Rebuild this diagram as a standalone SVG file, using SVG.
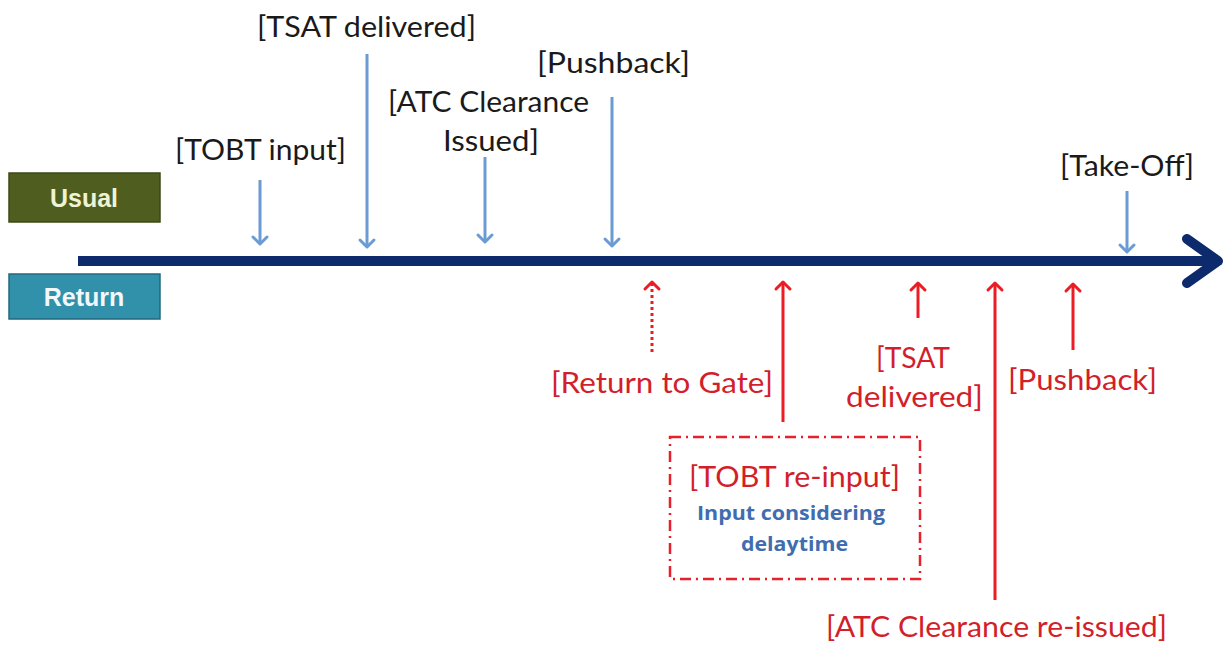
<svg xmlns="http://www.w3.org/2000/svg" width="1226" height="645" viewBox="0 0 1226 645">
<style>
.lbl{font-family:Lato,"Open Sans","Liberation Sans",sans-serif;font-size:28px}
.blk{fill:#1a1a1a}
.red{fill:#d21f2b}
.sub{font-family:"Open Sans","Liberation Sans",sans-serif;font-size:20px;font-weight:bold;fill:#3f6db0}
.tag{font-family:"Liberation Sans",Arial,sans-serif;font-size:25px;font-weight:bold;text-anchor:middle}
.ba{stroke:#6a9bd2;stroke-width:3;fill:none;marker-end:url(#mb)}
.ra{stroke:#ec1c24;stroke-width:3;fill:none;marker-end:url(#mr)}
</style>
<defs>
<marker id="mb" viewBox="0 0 20 20" refX="17" refY="10" markerWidth="20" markerHeight="20" markerUnits="userSpaceOnUse" orient="auto">
<path d="M10,3 L17,10 L10,17" fill="none" stroke="#6a9bd2" stroke-width="3" stroke-linecap="round" stroke-linejoin="round"/>
</marker>
<marker id="mr" viewBox="0 0 20 20" refX="17" refY="10" markerWidth="20" markerHeight="20" markerUnits="userSpaceOnUse" orient="auto">
<path d="M10,3 L17,10 L10,17" fill="none" stroke="#ec1c24" stroke-width="3" stroke-linecap="round" stroke-linejoin="round"/>
</marker>
</defs>
<rect width="1226" height="645" fill="#ffffff"/>

<g id="timeline">
<line x1="78" y1="261" x2="1214" y2="261" stroke="#0d2a6c" stroke-width="10"/>
<path d="M1187,239 L1218,261 L1187,283" fill="none" stroke="#0d2a6c" stroke-width="10" stroke-linecap="round" stroke-linejoin="round"/>
</g>

<g id="usual">
<rect x="9" y="173" width="151" height="49" fill="#4f5e1f" stroke="#3d4917" stroke-width="1.5"/>
<text class="tag" x="84" y="207" fill="#eef3d6">Usual</text>
</g>
<g id="return">
<rect x="9" y="274" width="151" height="45" fill="#3190aa" stroke="#22697d" stroke-width="1.5"/>
<text class="tag" x="84" y="306" fill="#f2f8fa">Return</text>
</g>

<g id="connectors">
<line class="ba" x1="260" y1="180" x2="260" y2="244"/>
<line class="ba" x1="367" y1="54" x2="367" y2="247"/>
<line class="ba" x1="485" y1="157" x2="485" y2="242"/>
<line class="ba" x1="612" y1="97" x2="612" y2="246"/>
<line class="ba" x1="1127" y1="191" x2="1127" y2="252"/>
<line class="ra" x1="652" y1="352" x2="652" y2="282" stroke-dasharray="3,3"/>
<line class="ra" x1="783" y1="422" x2="783" y2="282"/>
<line class="ra" x1="918" y1="318" x2="918" y2="283"/>
<line class="ra" x1="995" y1="600" x2="995" y2="283"/>
<line class="ra" x1="1073" y1="350" x2="1073" y2="284"/>
</g>

<g id="tobt-input"><text class="lbl blk" x="175" y="160" textLength="171" lengthAdjust="spacingAndGlyphs">[TOBT input]</text></g>
<g id="tsat-delivered"><text class="lbl blk" x="257" y="37" textLength="219" lengthAdjust="spacingAndGlyphs">[TSAT delivered]</text></g>
<g id="atc-clearance">
<text class="lbl blk" x="388" y="112" textLength="201" lengthAdjust="spacingAndGlyphs">[ATC Clearance</text>
<text class="lbl blk" x="443" y="151" textLength="96" lengthAdjust="spacingAndGlyphs">Issued]</text>
</g>
<g id="pushback"><text class="lbl blk" x="537" y="73" textLength="153" lengthAdjust="spacingAndGlyphs">[Pushback]</text></g>
<g id="take-off"><text class="lbl blk" x="1060" y="176" textLength="134" lengthAdjust="spacingAndGlyphs">[Take-Off]</text></g>

<g id="return-to-gate"><text class="lbl red" x="551" y="393" textLength="222" lengthAdjust="spacingAndGlyphs">[Return to Gate]</text></g>
<g id="tobt-reinput">
<rect x="670" y="437" width="250" height="142" fill="none" stroke="#e5222c" stroke-width="2.5" stroke-dasharray="11,5,2,5"/>
<text class="lbl red" x="689" y="487" textLength="211" lengthAdjust="spacingAndGlyphs">[TOBT re-input]</text>
<text class="sub" x="697" y="520" textLength="188" lengthAdjust="spacingAndGlyphs">Input considering</text>
<text class="sub" x="741" y="551" textLength="107" lengthAdjust="spacingAndGlyphs">delaytime</text>
</g>
<g id="tsat-redelivered">
<text class="lbl red" x="876" y="368" textLength="74" lengthAdjust="spacingAndGlyphs">[TSAT</text>
<text class="lbl red" x="846" y="407" textLength="137" lengthAdjust="spacingAndGlyphs">delivered]</text>
</g>
<g id="pushback-return"><text class="lbl red" x="1008" y="390" textLength="149" lengthAdjust="spacingAndGlyphs">[Pushback]</text></g>
<g id="atc-reissued"><text class="lbl red" x="826" y="637" textLength="341" lengthAdjust="spacingAndGlyphs">[ATC Clearance re-issued]</text></g>
</svg>
